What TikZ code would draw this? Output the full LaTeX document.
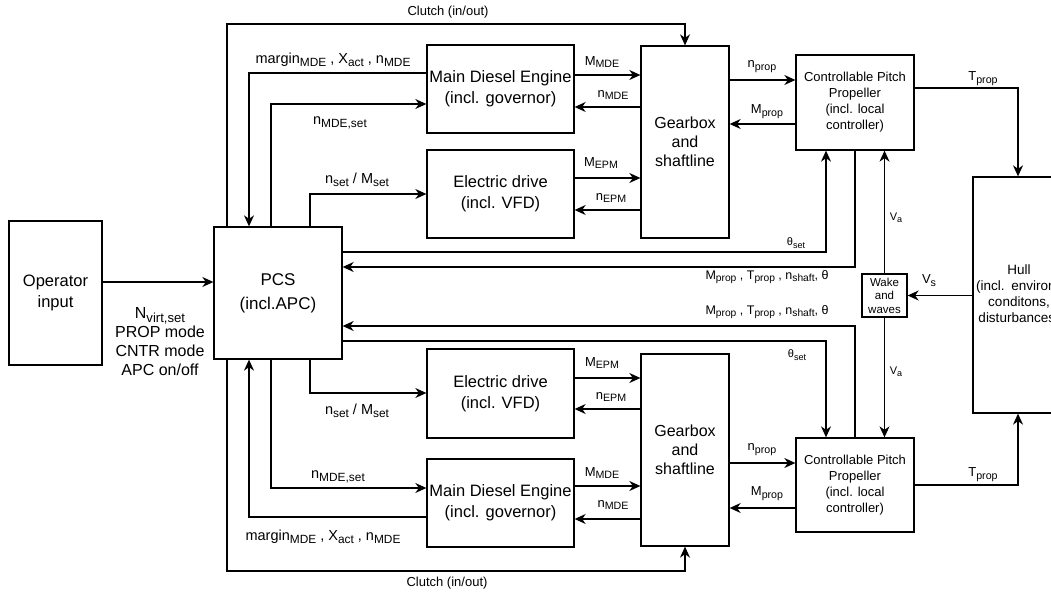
\documentclass[tikz,border=0pt]{standalone}
\usepackage{fontspec}
\setmainfont{Liberation Sans}
\usetikzlibrary{arrows.meta}
\makeatletter
% lowered, slightly reduced index text
\newcommand{\lo}[1]{\raisebox{-0.22em}{\fontsize{\fpeval{0.82*\f@size}}{0}\selectfont #1}}
\makeatother
\begin{document}
\begin{tikzpicture}[x=1pt,y=-1pt,
  box/.style={draw, line width=1.3pt, align=center, inner sep=0pt},
  bigtxt/.style={font=\fontsize{16.5}{21}\selectfont},
  pcstxt/.style={font=\fontsize{17}{24}\selectfont},
  gbtxt/.style={font=\fontsize{16}{19}\selectfont},
  cpptxt/.style={font=\fontsize{13}{16}\selectfont},
  hulltxt/.style={font=\fontsize{13.5}{16}\selectfont},
  waketxt/.style={font=\fontsize{11.5}{13.5}\selectfont},
  arr/.style={line width=1.3pt, -{Stealth[length=11pt,width=10pt,inset=3.5pt]}},
  lbl/.style={inner sep=0pt, font=\fontsize{13}{16}\selectfont},
  lblfb/.style={inner sep=0pt, font=\fontsize{12.5}{15}\selectfont},
  lblbig/.style={inner sep=0pt, font=\fontsize{14.5}{17}\selectfont},
  lblsm/.style={inner sep=0pt, font=\fontsize{11}{14}\selectfont},
  lblop/.style={inner sep=0pt, align=center, font=\fontsize{16}{19}\selectfont},
]
\useasboundingbox (0,0) rectangle (1051,593);
\clip (0,0) rectangle (1051,593);
\fill[white] (0,0) rectangle (1051,593);

% ---- blocks ----
\node[box,bigtxt,minimum width=93pt,minimum height=144pt] (op) at (55.5,293) {Operator\\input};
\node[box,pcstxt,minimum width=128pt,minimum height=132pt] (pcs) at (278,293) {PCS\\(incl.APC)};

\node[box,bigtxt,minimum width=147pt,minimum height=88pt] (mde1) at (500.5,89) {Main Diesel Engine\\(incl. governor)};
\node[box,bigtxt,minimum width=147pt,minimum height=88pt] (ed1) at (500.5,194) {Electric drive\\(incl. VFD)};
\node[box,gbtxt,minimum width=88pt,minimum height=192pt] (gb1) at (685,142) {Gearbox\\and\\shaftline};
\node[box,cpptxt,minimum width=118pt,minimum height=95pt] (cpp1) at (855,102.5) {Controllable Pitch\\Propeller\\(incl. local\\controller)};

\node[box,bigtxt,minimum width=147pt,minimum height=89pt] (ed2) at (500.5,393.5) {Electric drive\\(incl. VFD)};
\node[box,bigtxt,minimum width=147pt,minimum height=88pt] (mde2) at (500.5,503) {Main Diesel Engine\\(incl. governor)};
\node[box,gbtxt,minimum width=88pt,minimum height=192pt] (gb2) at (685,450) {Gearbox\\and\\shaftline};
\node[box,cpptxt,minimum width=118pt,minimum height=94pt] (cpp2) at (855,485) {Controllable Pitch\\Propeller\\(incl. local\\controller)};

\node[box,waketxt,minimum width=45pt,minimum height=43pt] (wake) at (884.5,295.5) {Wake\\and\\waves};
\node[box,hulltxt,text width=86pt,inner sep=3pt,minimum height=236pt] (hull) at (1019,295) {Hull\\\mbox{(incl. environmental}\\conditons,\\disturbances)};

% ---- operator command ----
\draw[arr] (op.east |- 0,282) -- (pcs.west |- 0,282);
\node[lblop] at (160,342) {N\lo{virt,set}\\PROP mode\\CNTR mode\\APC on/off};

% ---- upper shaft line ----
\draw[arr] (pcs.north -| 227,0) |- (gb1.north |- 0,24) -- (gb1.north);
\node[lbl] at (448,12) {Clutch (in/out)};
\draw[arr] (mde1.west |- 0,73) -| (pcs.north -| 249,0);
\node[lblbig] at (333,60) {margin\lo{MDE} , X\lo{act} , n\lo{MDE}};
\draw[arr] (pcs.north -| 271,0) |- (mde1.west |- 0,104);
\node[lblbig] at (340,123) {n\lo{MDE,set}};
\draw[arr] (pcs.north -| 310,0) |- (ed1.west);
\node[lblbig] at (357,180) {n\lo{set} / M\lo{set}};

\draw[arr] (mde1.east |- 0,75) -- (gb1.west |- 0,75);
\node[lbl] at (602,62) {M\lo{MDE}};
\draw[arr] (gb1.west |- 0,107) -- (mde1.east |- 0,107);
\node[lbl] at (613,95) {n\lo{MDE}};
\draw[arr] (ed1.east |- 0,178) -- (gb1.west |- 0,178);
\node[lbl] at (601,163) {M\lo{EPM}};
\draw[arr] (gb1.west |- 0,210) -- (ed1.east |- 0,210);
\node[lbl] at (611,198) {n\lo{EPM}};

\draw[arr] (gb1.east |- 0,80) -- (cpp1.west |- 0,80);
\node[lbl] at (762,67) {n\lo{prop}};
\draw[arr] (cpp1.west |- 0,124) -- (gb1.east |- 0,124);
\node[lbl] at (767,112) {M\lo{prop}};
\draw[arr] (cpp1.east |- 0,88) -| (hull.north -| 1018,0);
\node[lbl] at (983,79) {T\lo{prop}};

\draw[arr] (pcs.east |- 0,252) -| (cpp1.south -| 826,0);
\node[lblsm] at (796,243) {θ\lo{set}};
\draw[arr] (cpp1.south) |- (pcs.east |- 0,267);
\node[lblfb] at (767,277) {M\lo{prop} , T\lo{prop} , n\lo{shaft}, θ};

% ---- wake and hull ----
\draw[arr] (wake.north) -- (cpp1.south -| wake.north);
\node[lblsm] at (896,218) {V\lo{a}};
\draw[arr] (hull.west |- wake.east) -- (wake.east);
\node[lbl] at (929,281) {V\lo{s}};
\draw[arr] (wake.south) -- (cpp2.north -| wake.south);
\node[lblsm] at (896,372) {V\lo{a}};

% ---- lower shaft line ----
\draw[arr] (cpp2.north) |- (pcs.east |- 0,326);
\node[lblfb] at (767,312) {M\lo{prop} , T\lo{prop} , n\lo{shaft}, θ};
\draw[arr] (pcs.east |- 0,341) -| (cpp2.north -| 826,0);
\node[lblsm] at (797,355) {θ\lo{set}};

\draw[arr] (gb2.east |- 0,463) -- (cpp2.west |- 0,463);
\node[lbl] at (762,450) {n\lo{prop}};
\draw[arr] (cpp2.west |- 0,508) -- (gb2.east |- 0,508);
\node[lbl] at (767,494) {M\lo{prop}};
\draw[arr] (cpp2.east |- 0,485) -| (hull.south -| 1018,0);
\node[lbl] at (983,475) {T\lo{prop}};

\draw[arr] (ed2.east |- 0,378) -- (gb2.west |- 0,378);
\node[lbl] at (602,363) {M\lo{EPM}};
\draw[arr] (gb2.west |- 0,409) -- (ed2.east |- 0,409);
\node[lbl] at (611,397) {n\lo{EPM}};
\draw[arr] (mde2.east |- 0,486) -- (gb2.west |- 0,486);
\node[lbl] at (602,473) {M\lo{MDE}};
\draw[arr] (gb2.west |- 0,519) -- (mde2.east |- 0,519);
\node[lbl] at (613,505) {n\lo{MDE}};

\draw[arr] (pcs.south -| 310,0) |- (ed2.west |- 0,393);
\node[lblbig] at (357,411) {n\lo{set} / M\lo{set}};
\draw[arr] (pcs.south -| 271,0) |- (mde2.west |- 0,488);
\node[lblbig] at (338,477) {n\lo{MDE,set}};
\draw[arr] (mde2.west |- 0,517) -| (pcs.south -| 249,0);
\node[lblbig] at (323,537) {margin\lo{MDE} , X\lo{act} , n\lo{MDE}};
\draw[arr] (pcs.south -| 227,0) |- (gb2.south |- 0,571) -- (gb2.south);
\node[lbl] at (447,583) {Clutch (in/out)};
\end{tikzpicture}
\end{document}
